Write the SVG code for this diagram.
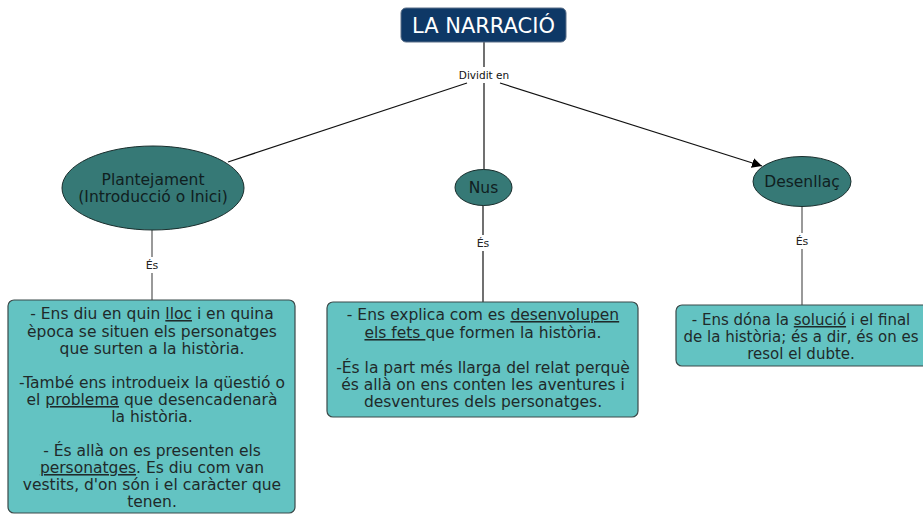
<svg xmlns="http://www.w3.org/2000/svg" width="923" height="514" viewBox="0 0 923 514">
<style>
text{font-family:"DejaVu Sans","Liberation Sans",sans-serif;fill:#1f2a2a;text-anchor:middle}
.title{fill:#ffffff;font-size:21px}
.lbl{font-size:10.5px;fill:#111}
.es{font-size:11px;fill:#222}
.node{font-size:15.5px;fill:#10201f}
.box{font-size:15.5px}
.box3{font-size:15px}
.ell{fill:#367976;stroke:#1a2e2d;stroke-width:1}
.rect{fill:#63c3c2;stroke:#3b4a4a;stroke-width:1.2}
.ln{stroke:#111;stroke-width:1.2;fill:none}
.lg{stroke:#555;stroke-width:1.2;fill:none}
.u{text-decoration:underline}
</style>
<defs>
<marker id="ah" viewBox="0 0 10 10" refX="10" refY="5" markerWidth="10" markerHeight="10" markerUnits="userSpaceOnUse" orient="auto">
<path d="M0,0 L10,5 L0,10 z" fill="#000"/>
</marker>
</defs>
<rect width="923" height="514" fill="#ffffff"/>
<g id="connectors">
<line class="ln" x1="484" y1="42" x2="484" y2="67"/>
<text class="lbl" x="484" y="79">Dividit en</text>
<line class="ln" x1="467" y1="83" x2="228" y2="162"/>
<line class="ln" x1="484" y1="83" x2="484" y2="170"/>
<line class="ln" x1="500" y1="83" x2="762" y2="166" marker-end="url(#ah)"/>
<line class="lg" x1="152" y1="230" x2="152" y2="257"/>
<text class="es" x="152" y="269">És</text>
<line class="lg" x1="152" y1="273" x2="152" y2="300"/>
<line class="ln" x1="483" y1="205" x2="483" y2="235"/>
<text class="es" x="483" y="247">És</text>
<line class="ln" x1="483" y1="251" x2="483" y2="302"/>
<line class="lg" x1="802" y1="206" x2="802" y2="233"/>
<text class="es" x="802" y="245">És</text>
<line class="lg" x1="802" y1="249" x2="802" y2="305"/>
</g>
<g id="title">
<rect x="401" y="8" width="165" height="34" rx="5" fill="#0e3866" stroke="#5a6f88" stroke-width="1"/>
<text class="title" x="483.5" y="33">LA NARRACIÓ</text>
</g>
<g id="plantejament">
<ellipse class="ell" cx="153" cy="188" rx="91" ry="42"/>
<text class="node" x="153" y="185">Plantejament</text>
<text class="node" x="153" y="202">(Introducció o Inici)</text>
</g>
<g id="nus">
<ellipse class="ell" cx="483.5" cy="187.5" rx="28.5" ry="18"/>
<text class="node" x="483.5" y="193">Nus</text>
</g>
<g id="desenllac">
<ellipse class="ell" cx="802" cy="181.5" rx="49" ry="25"/>
<text class="node" x="802" y="187">Desenllaç</text>
</g>
<g id="box1">
<rect class="rect" x="8" y="300" width="287" height="213" rx="6"/>
<text class="box" x="152" y="319">- Ens diu en quin <tspan class="u">lloc</tspan> i en quina</text>
<text class="box" x="152" y="336.5">època se situen els personatges</text>
<text class="box" x="152" y="354">que surten a la història.</text>
<text class="box" x="152" y="388">-També ens introdueix la qüestió o</text>
<text class="box" x="152" y="405">el <tspan class="u">problema</tspan> que desencadenarà</text>
<text class="box" x="152" y="422">la història.</text>
<text class="box" x="152" y="456">- És allà on es presenten els</text>
<text class="box" x="152" y="473"><tspan class="u">personatges</tspan>. Es diu com van</text>
<text class="box" x="152" y="490">vestits, d'on són i el caràcter que</text>
<text class="box" x="152" y="507">tenen.</text>
</g>
<g id="box2">
<rect class="rect" x="327" y="302" width="311" height="115" rx="6"/>
<text class="box" x="483" y="320">- Ens explica com es <tspan class="u">desenvolupen</tspan></text>
<text class="box" x="483" y="338"><tspan class="u">els fets </tspan>que formen la història.</text>
<text class="box" x="483" y="373">-És la part més llarga del relat perquè</text>
<text class="box" x="483" y="390">és allà on ens conten les aventures i</text>
<text class="box" x="483" y="407">desventures dels personatges.</text>
</g>
<g id="box3">
<rect class="rect" x="676" y="305" width="262" height="61" rx="6"/>
<text class="box3" x="801" y="325">- Ens dóna la <tspan class="u">solució</tspan> i el final</text>
<text class="box3" x="801" y="342">de la història; és a dir, és on es</text>
<text class="box3" x="801" y="359">resol el dubte.</text>
</g>
</svg>
